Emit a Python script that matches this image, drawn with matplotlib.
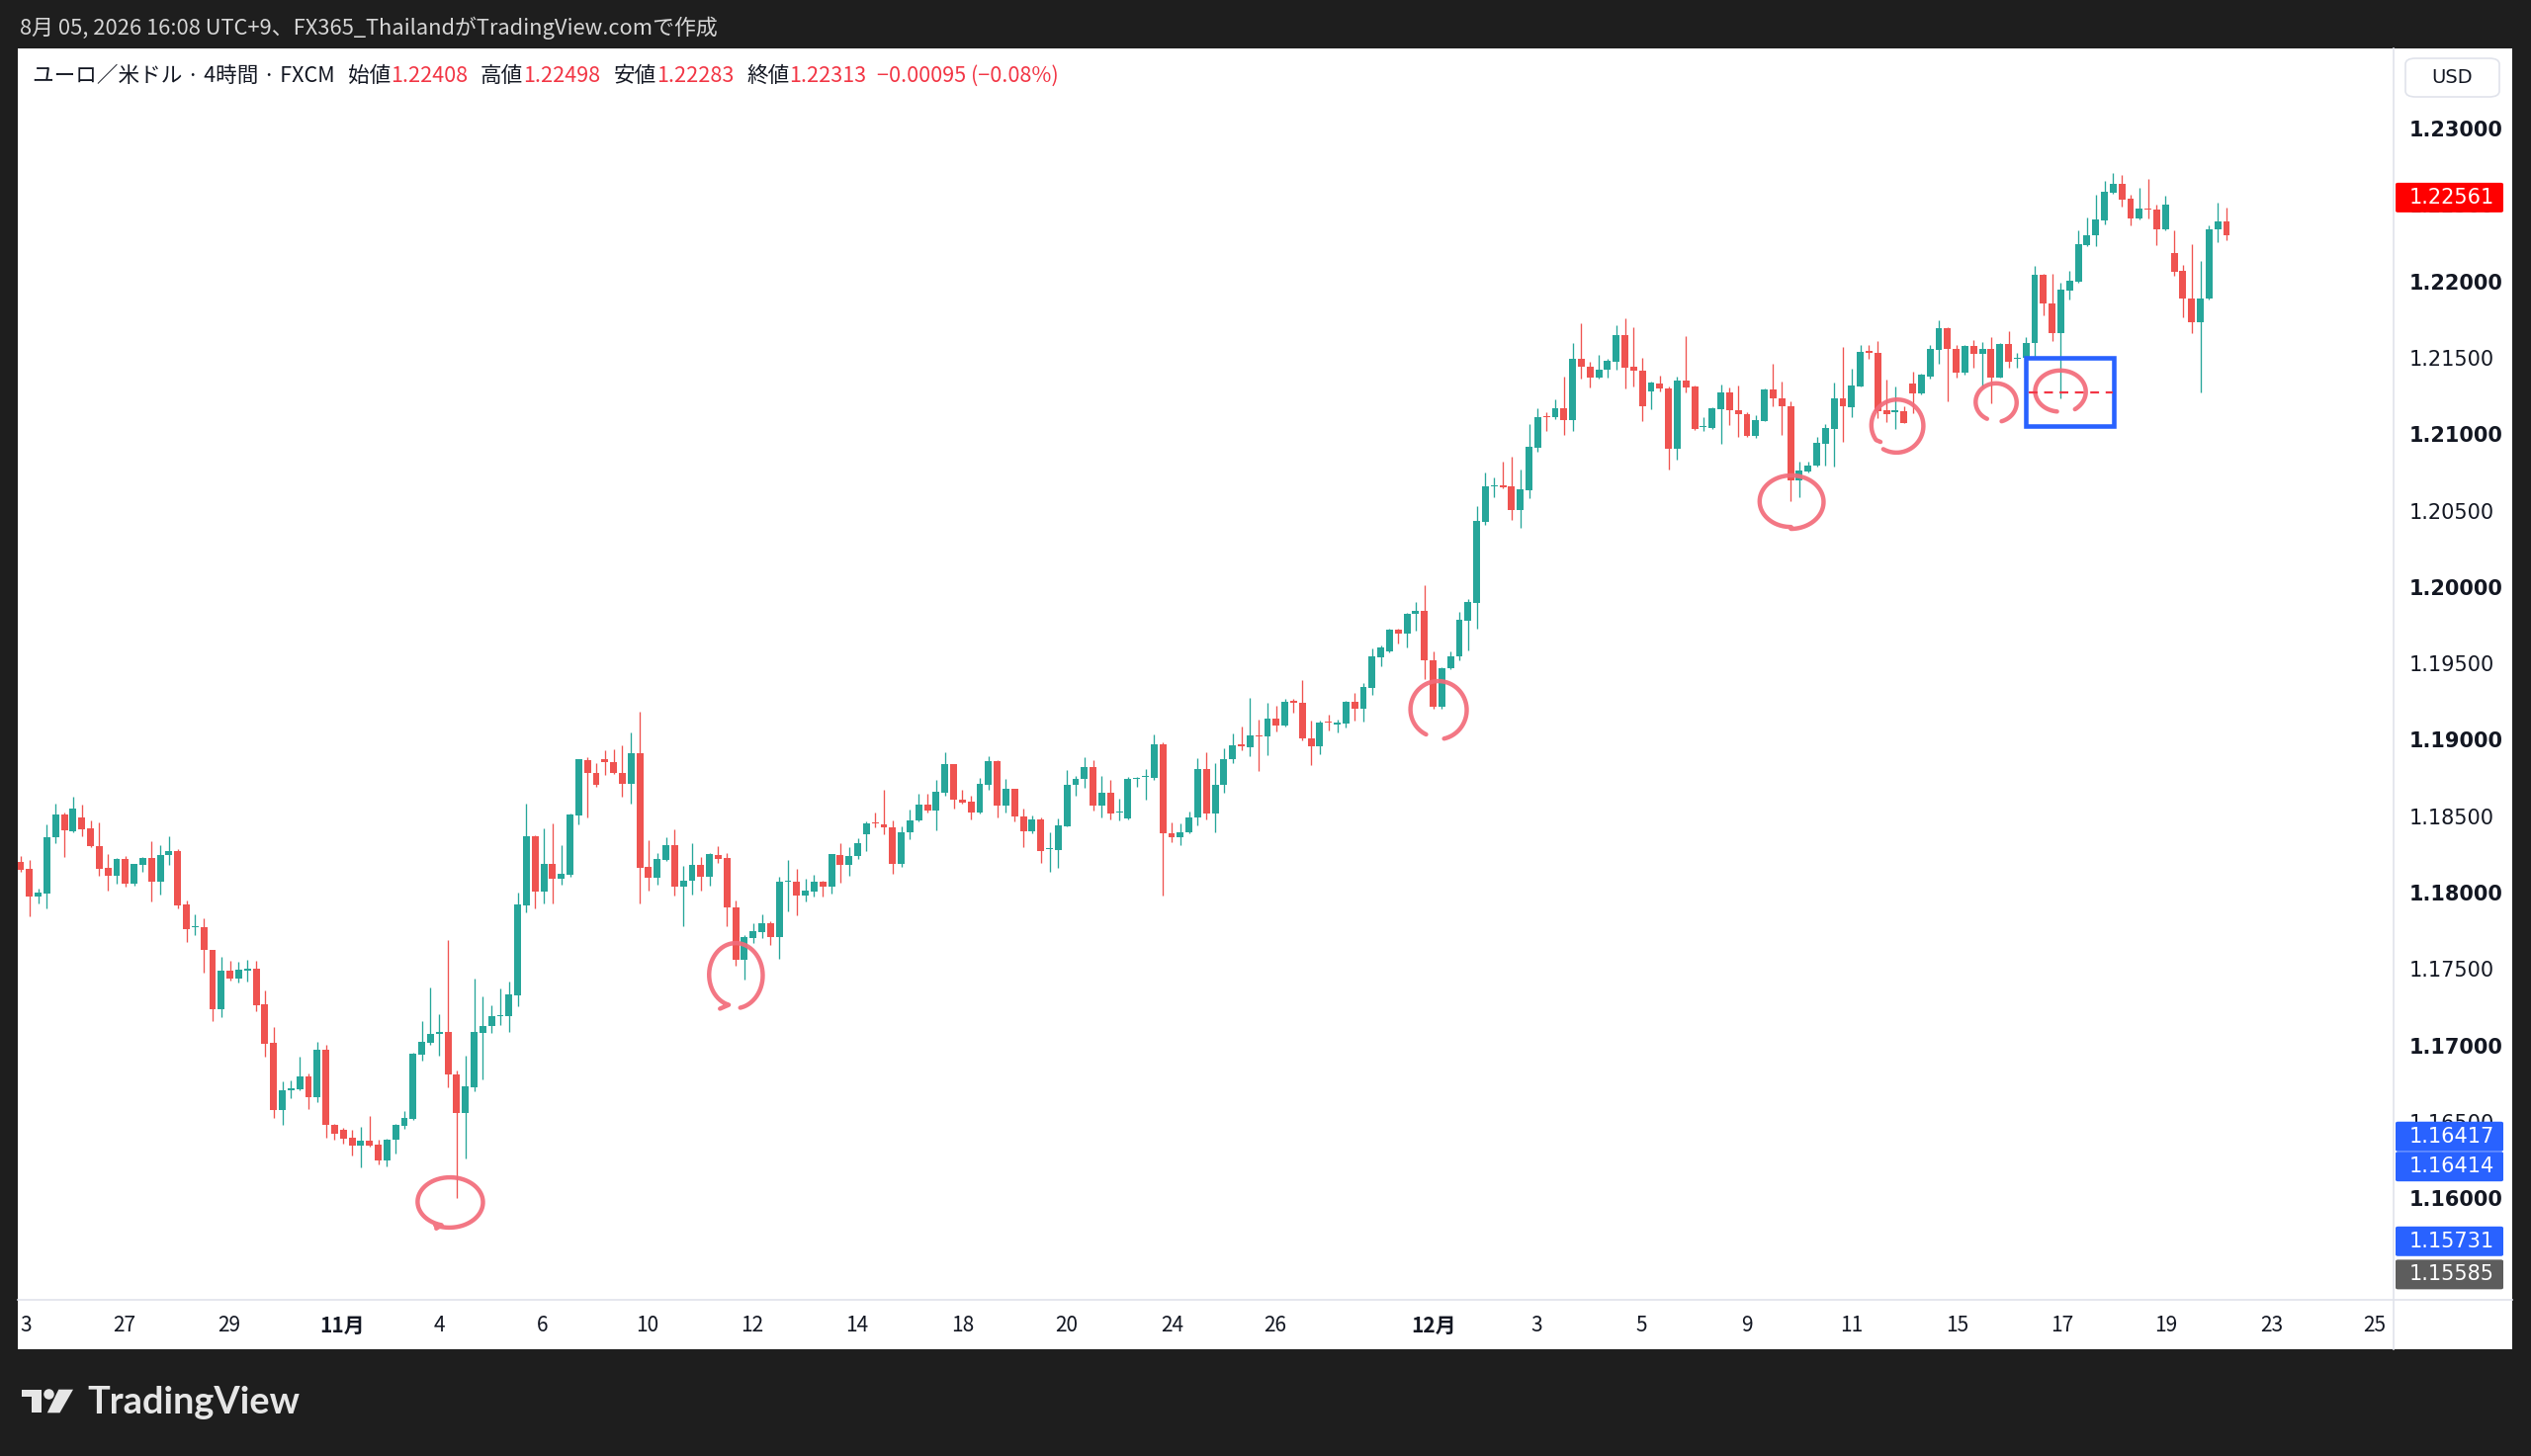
import matplotlib
matplotlib.use("Agg")
import matplotlib.pyplot as plt
import numpy as np
from matplotlib.patches import Rectangle, FancyBboxPatch, Polygon, Ellipse
from matplotlib.lines import Line2D

plt.rcParams['font.family'] = ['Noto Sans CJK JP', 'DejaVu Sans']

# ---------------- data (EUR/USD 4h candles) ----------------
opens = [1.18216,1.18168,1.17985,1.18007,1.18373,1.18524,1.18416,1.18505,1.18436,1.18319,
 1.18175,1.18123,1.18233,1.18069,1.18192,1.18237,1.18082,1.18257,1.18287,1.17936,
 1.17785,1.17785,1.17640,1.17252,1.17500,1.17448,1.17502,1.17517,1.17280,1.17030,
 1.16592,1.16717,1.16728,1.16810,1.16674,1.16985,1.16495,1.16459,1.16409,1.16359,
 1.16390,1.16364,1.16260,1.16394,1.16487,1.16532,1.16954,1.17030,1.17088,1.17099,
 1.16825,1.16573,1.16741,1.17095,1.17140,1.17202,1.17202,1.17343,1.17931,1.18382,
 1.18019,1.18203,1.18106,1.18127,1.18518,1.18880,1.18798,1.18886,1.18869,1.18798,
 1.18727,1.18923,1.18179,1.18112,1.18226,1.18326,1.18054,1.18091,1.18192,1.18117,
 1.18259,1.18237,1.17918,1.17573,1.17718,1.17756,1.17813,1.17724,1.18082,1.18086,
 1.17991,1.18020,1.18082,1.18054,1.18259,1.18194,1.18252,1.18397,1.18474,1.18461,
 1.18440,1.18198,1.18408,1.18485,1.18589,1.18548,1.18668,1.18852,1.18619,1.18608,
 1.18535,1.18720,1.18875,1.18582,1.18690,1.18513,1.18414,1.18492,1.18295,1.18291,
 1.18449,1.18718,1.18757,1.18834,1.18582,1.18666,1.18537,1.18496,1.18759,1.18770,
 1.18766,1.18985,1.18403,1.18377,1.18405,1.18507,1.18824,1.18528,1.18716,1.18884,
 1.18981,1.18964,1.19042,1.19033,1.19149,1.19104,1.19268,1.19253,1.19024,1.18970,
 1.19132,1.19111,1.19119,1.19261,1.19214,1.19354,1.19555,1.19591,1.19731,1.19710,
 1.19839,1.19854,1.19535,1.19226,1.19481,1.19557,1.19794,1.19908,1.20436,1.20671,
 1.20678,1.20671,1.20518,1.20648,1.20924,1.21133,1.21122,1.21185,1.21105,1.21504,
 1.21456,1.21383,1.21433,1.21489,1.21661,1.21452,1.21428,1.21292,1.21344,1.21312,
 1.20919,1.21364,1.21325,1.21062,1.21055,1.21176,1.21284,1.21172,1.21144,1.20999,
 1.21098,1.21308,1.21249,1.21198,1.20712,1.20771,1.20807,1.20950,1.21047,1.21249,
 1.21191,1.21327,1.21555,1.21545,1.21167,1.21159,1.21163,1.21342,1.21277,1.21392,
 1.21564,1.21709,1.21568,1.21413,1.21590,1.21536,1.21568,1.21385,1.21601,1.21506,
 1.21510,1.21612,1.22058,1.21866,1.21676,1.21952,1.22010,1.22248,1.22312,1.22414,
 1.22593,1.22653,1.22554,1.22424,1.22491,1.22480,1.22351,1.22198,1.22079,1.21903,
 1.21745,1.21898,1.22355,1.22408]
highs = [1.18252,1.18227,1.18041,1.18459,1.18593,1.18539,1.18641,1.18587,1.18485,1.18470,
 1.18265,1.18237,1.18255,1.18201,1.18244,1.18347,1.18324,1.18382,1.18296,1.17964,
 1.17871,1.17843,1.17641,1.17593,1.17569,1.17560,1.17575,1.17565,1.17373,1.17136,
 1.16778,1.16782,1.16937,1.16832,1.17036,1.17019,1.16502,1.16474,1.16459,1.16480,
 1.16549,1.16394,1.16405,1.16502,1.16584,1.16965,1.17170,1.17390,1.17217,1.17703,
 1.16851,1.16944,1.17450,1.17332,1.17274,1.17386,1.17429,1.18015,1.18593,1.18388,
 1.18433,1.18464,1.18323,1.18533,1.18888,1.18899,1.18858,1.18944,1.18951,1.18975,
 1.19061,1.19197,1.18354,1.18270,1.18377,1.18425,1.18190,1.18336,1.18248,1.18270,
 1.18319,1.18270,1.17963,1.17735,1.17813,1.17871,1.17823,1.18114,1.18226,1.18168,
 1.18101,1.18127,1.18091,1.18267,1.18334,1.18308,1.18367,1.18481,1.18539,1.18684,
 1.18485,1.18444,1.18556,1.18660,1.18660,1.18748,1.18929,1.18855,1.18684,1.18647,
 1.18765,1.18903,1.18878,1.18759,1.18694,1.18561,1.18515,1.18507,1.18405,1.18498,
 1.18817,1.18774,1.18897,1.18882,1.18776,1.18748,1.18625,1.18770,1.18772,1.18819,
 1.19050,1.18996,1.18470,1.18464,1.18546,1.18895,1.18934,1.18858,1.18960,1.19057,
 1.19098,1.19287,1.19143,1.19255,1.19236,1.19279,1.19279,1.19404,1.19139,1.19139,
 1.19177,1.19143,1.19270,1.19322,1.19384,1.19613,1.19630,1.19740,1.19740,1.19844,
 1.19915,1.20023,1.19589,1.19487,1.19589,1.19850,1.19934,1.20542,1.20762,1.20732,
 1.20831,1.20866,1.20781,1.21077,1.21180,1.21154,1.21243,1.21389,1.21607,1.21737,
 1.21486,1.21532,1.21504,1.21726,1.21771,1.21713,1.21510,1.21355,1.21396,1.21327,
 1.21392,1.21655,1.21328,1.21126,1.21191,1.21336,1.21318,1.21331,1.21159,1.21137,
 1.21310,1.21471,1.21359,1.21230,1.20831,1.20835,1.20997,1.21079,1.21348,1.21586,
 1.21443,1.21594,1.21594,1.21622,1.21370,1.21327,1.21195,1.21422,1.21411,1.21594,
 1.21758,1.21712,1.21594,1.21594,1.21627,1.21616,1.21650,1.21608,1.21685,1.21543,
 1.21648,1.22112,1.22060,1.22060,1.22004,1.22079,1.22345,1.22431,1.22582,1.22668,
 1.22722,1.22711,1.22582,1.22625,1.22683,1.22517,1.22575,1.22346,1.22123,1.22258,
 1.22144,1.22381,1.22528,1.22498]
lows = [1.18151,1.17860,1.17942,1.17908,1.18339,1.18244,1.18410,1.18384,1.18313,1.18123,
 1.18024,1.18071,1.18054,1.18058,1.18146,1.17953,1.18000,1.18192,1.17912,1.17688,
 1.17735,1.17491,1.17170,1.17198,1.17435,1.17425,1.17431,1.17235,1.16942,1.16538,
 1.16491,1.16670,1.16717,1.16597,1.16640,1.16411,1.16394,1.16368,1.16290,1.16215,
 1.16351,1.16232,1.16221,1.16303,1.16465,1.16528,1.16911,1.17015,1.16944,1.16739,
 1.16017,1.16271,1.16713,1.16793,1.17095,1.17144,1.17101,1.17271,1.17886,1.17907,
 1.17942,1.17942,1.18065,1.18119,1.18459,1.18507,1.18705,1.18781,1.18787,1.18640,
 1.18593,1.17944,1.18024,1.18065,1.18222,1.17996,1.17793,1.18002,1.18026,1.18058,
 1.18205,1.17793,1.17532,1.17446,1.17683,1.17713,1.17670,1.17580,1.17890,1.17862,
 1.17955,1.17989,1.17989,1.18004,1.18076,1.18125,1.18233,1.18287,1.18442,1.18395,
 1.18134,1.18183,1.18362,1.18481,1.18535,1.18418,1.18645,1.18563,1.18597,1.18494,
 1.18528,1.18684,1.18505,1.18535,1.18481,1.18313,1.18399,1.18209,1.18151,1.18175,
 1.18446,1.18645,1.18696,1.18552,1.18505,1.18494,1.18487,1.18492,1.18707,1.18621,
 1.18748,1.17994,1.18341,1.18324,1.18400,1.18453,1.18492,1.18405,1.18669,1.18863,
 1.18944,1.18904,1.18811,1.18912,1.19067,1.19100,1.19192,1.19011,1.18847,1.18921,
 1.19074,1.19063,1.19091,1.19136,1.19132,1.19305,1.19492,1.19587,1.19645,1.19615,
 1.19725,1.19412,1.19218,1.19218,1.19477,1.19535,1.19596,1.19742,1.20421,1.20603,
 1.20661,1.20449,1.20398,1.20596,1.20898,1.21036,1.21111,1.21008,1.21036,1.21374,
 1.21320,1.21374,1.21385,1.21433,1.21310,1.21325,1.21098,1.21174,1.21292,1.20781,
 1.20846,1.21288,1.21043,1.21036,1.21044,1.20947,1.21073,1.20997,1.20995,1.20991,
 1.21096,1.21193,1.21008,1.20577,1.20598,1.20760,1.20803,1.20809,1.20803,1.20965,
 1.21126,1.21322,1.21504,1.21116,1.21094,1.21047,1.21085,1.21152,1.21271,1.21379,
 1.21471,1.21228,1.21385,1.21400,1.21450,1.21321,1.21213,1.21381,1.21450,1.21450,
 1.21504,1.21515,1.21788,1.21622,1.21245,1.21896,1.22004,1.22241,1.22241,1.22383,
 1.22588,1.22502,1.22381,1.22420,1.22427,1.22248,1.22346,1.22047,1.21780,1.21676,
 1.21288,1.21896,1.22269,1.22283]
closes = [1.18162,1.17985,1.18011,1.18378,1.18524,1.18421,1.18563,1.18429,1.18315,1.18168,
 1.18123,1.18233,1.18069,1.18199,1.18240,1.18082,1.18261,1.18285,1.17929,1.17774,
 1.17793,1.17636,1.17252,1.17502,1.17448,1.17507,1.17517,1.17276,1.17026,1.16592,
 1.16717,1.16735,1.16810,1.16674,1.16985,1.16493,1.16437,1.16405,1.16359,1.16390,
 1.16359,1.16260,1.16398,1.16491,1.16538,1.16959,1.17034,1.17088,1.17099,1.16825,
 1.16573,1.16745,1.17099,1.17140,1.17202,1.17211,1.17349,1.17935,1.18382,1.18019,
 1.18203,1.18106,1.18134,1.18524,1.18884,1.18798,1.18718,1.18867,1.18796,1.18727,
 1.18923,1.18177,1.18112,1.18231,1.18326,1.18054,1.18091,1.18192,1.18117,1.18263,
 1.18233,1.17914,1.17573,1.17722,1.17761,1.17813,1.17724,1.18086,1.18091,1.17991,
 1.18024,1.18082,1.18054,1.18263,1.18194,1.18254,1.18334,1.18468,1.18466,1.18438,
 1.18198,1.18410,1.18485,1.18589,1.18548,1.18673,1.18852,1.18619,1.18604,1.18535,
 1.18724,1.18875,1.18582,1.18690,1.18513,1.18414,1.18492,1.18287,1.18302,1.18451,
 1.18718,1.18757,1.18834,1.18582,1.18666,1.18530,1.18543,1.18759,1.18766,1.18776,
 1.18985,1.18403,1.18377,1.18410,1.18507,1.18824,1.18528,1.18718,1.18888,1.18975,
 1.18970,1.19039,1.19035,1.19149,1.19104,1.19259,1.19257,1.19020,1.18970,1.19128,
 1.19123,1.19123,1.19261,1.19214,1.19358,1.19559,1.19619,1.19736,1.19710,1.19839,
 1.19854,1.19533,1.19226,1.19484,1.19559,1.19796,1.19913,1.20443,1.20669,1.20678,
 1.20667,1.20518,1.20652,1.20928,1.21124,1.21124,1.21185,1.21105,1.21504,1.21456,
 1.21385,1.21433,1.21493,1.21661,1.21450,1.21428,1.21198,1.21348,1.21310,1.20919,
 1.21364,1.21320,1.21047,1.21068,1.21180,1.21284,1.21172,1.21142,1.20999,1.21105,
 1.21308,1.21249,1.21195,1.20712,1.20775,1.20807,1.20954,1.21051,1.21249,1.21195,
 1.21331,1.21551,1.21547,1.21163,1.21146,1.21167,1.21088,1.21277,1.21400,1.21568,
 1.21709,1.21568,1.21418,1.21590,1.21536,1.21568,1.21385,1.21605,1.21489,1.21512,
 1.21612,1.22054,1.21866,1.21676,1.21957,1.22015,1.22254,1.22317,1.22416,1.22597,
 1.22653,1.22549,1.22424,1.22489,1.22485,1.22355,1.22517,1.22075,1.21903,1.21745,
 1.21903,1.22355,1.22405,1.22313]

price_tick_values = [1.230, 1.225, 1.220, 1.215, 1.210, 1.205, 1.200, 1.195,
                     1.190, 1.185, 1.180, 1.175, 1.170, 1.165, 1.160]
price_tick_labels = ["1.23000", "1.22500", "1.22000", "1.21500", "1.21000", "1.20500",
                     "1.20000", "1.19500", "1.19000", "1.18500", "1.18000", "1.17500",
                     "1.17000", "1.16500", "1.16000"]

x_tick_pos = [0.6, 11.9, 23.9, 36.9, 48.0, 59.8, 71.9, 83.9, 95.9, 108.0, 120.0, 132.1,
              143.9, 162.1, 173.9, 185.9, 198.0, 210.0, 222.1, 234.1, 246.1, 258.2, 270.0]
x_tick_labels = ["3", "27", "29", "11月", "4", "6", "10", "12", "14", "18", "20", "24",
                 "26", "12月", "3", "5", "9", "11", "15", "17", "19", "23", "25"]

price_label_values = [1.22561, 1.16417, 1.16414, 1.15731, 1.15585]
price_label_texts = ["1.22561", "1.16417", "1.16414", "1.15731", "1.15585"]
price_label_colors = ["#ff0000", "#2962ff", "#2962ff", "#2962ff", "#5d5d5d"]

header_text = "8月 05, 2026 16:08 UTC+9、FX365_ThailandがTradingView.comで作成"
legend_title = "ユーロ／米ドル · 4時間 · FXCM"
legend_keys = ["始値", "高値", "安値", "終値"]
legend_vals = ["1.22408", "1.22498", "1.22283", "1.22313"]
legend_change = "−0.00095 (−0.08%)"

# hand drawn marks: centre bar, centre price, radius bars, radius price, start deg, sweep deg
circle_cx = [49.2, 81.97, 162.56, 203.05, 215.19, 226.53, 233.9]
circle_cy = [1.15988, 1.17473, 1.19210, 1.20571, 1.21069, 1.21221, 1.21292]
circle_rx = [3.9, 3.19, 3.35, 3.8, 3.12, 2.44, 3.0]
circle_ry = [0.00168, 0.00217, 0.00194, 0.00178, 0.00178, 0.00129, 0.00142]
circle_a0 = [245, 280, 282, 270, 240, 286, 305]
circle_sw = [370, 335, 322, 360, 335, 318, 318]
circle_tail_dx = [-0.6, -1.0, 0.0, 0.0, 0.5, 0.0, 0.0]
circle_tail_dy = [-0.00022, -0.00025, 0.0, 0.0, -0.00012, 0.0, 0.0]
box_x = [229.98, 240.08]
box_y = [1.21066, 1.21512]
dash_x = [230.3, 240.0]
dash_y = 1.21288

# ---------------- figure ----------------
W, H = 2560, 1473
fig = plt.figure(figsize=(W / 100, H / 100), dpi=100, facecolor="#1e1e1e")
renderer = fig.canvas.get_renderer()


def fx(x):
    return x / W


def fy(y):
    return 1 - y / H


fig.add_artist(Rectangle((fx(18), fy(1365)), (2541 - 18) / W, (1365 - 49) / H,
                         transform=fig.transFigure, facecolor="white",
                         edgecolor="none", zorder=-10))

ax = fig.add_axes([fx(18), fy(1315), (2420 - 18) / W, (1315 - 49) / H])
ax.set_xlim(-0.34, 272.05)
ax.set_ylim(1.15348, 1.235369)
ax.axis("off")

o = np.array(opens); h = np.array(highs); l = np.array(lows); c = np.array(closes)
x = np.arange(len(o))
up = c >= o
cols = np.where(up, "#26a69a", "#ef5350")
ax.vlines(x, l, h, colors=cols, linewidth=0.95, zorder=2)
minh = 0.00008
bh = np.abs(c - o)
blo = np.minimum(o, c)
small = bh < minh
blo = np.where(small, (o + c) / 2 - minh / 2, blo)
bh = np.maximum(bh, minh)
ax.bar(x, bh, bottom=blo, width=0.78, color=cols, linewidth=0, zorder=3)

# hand drawn circles
ring_col = "#f26b7a"
for cx, cy, rx, ry, a0, sw, tdx, tdy in zip(circle_cx, circle_cy, circle_rx, circle_ry,
                                            circle_a0, circle_sw, circle_tail_dx,
                                            circle_tail_dy):
    t = np.radians(np.linspace(a0, a0 + sw, 240))
    rf = np.linspace(1.0, 0.93, 240)
    xs = list(cx + rx * rf * np.cos(t))
    ys = list(cy + ry * rf * np.sin(t))
    if tdx != 0 or tdy != 0:
        xs.append(xs[-1] + tdx)
        ys.append(ys[-1] + tdy)
    ax.plot(xs, ys, color=ring_col, lw=3.2, alpha=0.92, solid_capstyle="round",
            solid_joinstyle="round", zorder=5)

ax.add_patch(Rectangle((box_x[0], box_y[0]), box_x[1] - box_x[0], box_y[1] - box_y[0],
                       fill=False, edgecolor="#2962ff", lw=3.3, zorder=6))
ax.plot(dash_x, [dash_y, dash_y], color="#f23645", lw=1.6, dashes=(4, 3), zorder=6)

# separators
fig.add_artist(Line2D([fx(2421), fx(2421)], [fy(49), fy(1365)], color="#e0e3eb",
                      lw=1.2, transform=fig.transFigure))
fig.add_artist(Line2D([fx(18), fx(2541)], [fy(1315), fy(1315)], color="#e0e3eb",
                      lw=1.2, transform=fig.transFigure))

# price axis
for v, s in zip(price_tick_values, price_tick_labels):
    yd = ax.transData.transform((0, v))[1]
    bold = abs(round(v * 100) - v * 100) < 1e-6
    fig.text(fx(2437), yd / H, s, fontsize=15, family="DejaVu Sans",
             fontweight="bold" if bold else "normal", color="#131722",
             va="center", ha="left", zorder=2)

shift_px = [0, 0, 30, 0, 11]
for v, s, col, sh in zip(price_label_values, price_label_texts, price_label_colors, shift_px):
    yd = ax.transData.transform((0, v))[1] - sh
    fig.add_artist(FancyBboxPatch((fx(2423), (yd - 15) / H), 109 / W, 30 / H,
                                  boxstyle="round,pad=0,rounding_size=0.001",
                                  transform=fig.transFigure, facecolor=col,
                                  edgecolor="none", zorder=3))
    fig.text(fx(2437), yd / H, s, fontsize=15, family="DejaVu Sans", color="white",
             va="center", ha="left", zorder=4)

# USD box
fig.add_artist(FancyBboxPatch((fx(2433), fy(98)), 95 / W, 39 / H,
                              boxstyle="round,pad=0,rounding_size=0.004",
                              transform=fig.transFigure, facecolor="white",
                              edgecolor="#e0e3eb", lw=1.2, zorder=3))
fig.text(fx(2480), fy(78), "USD", fontsize=14, family="DejaVu Sans", color="#131722",
         ha="center", va="center", zorder=4)

# time axis
for p, s in zip(x_tick_pos, x_tick_labels):
    xd = ax.transData.transform((p, 0))[0]
    fig.text(xd / W, fy(1341), s, fontsize=15, color="#131722", ha="center",
             va="center", fontweight="bold" if "月" in s else "normal")


def fit_width(t, target):
    bb = t.get_window_extent(renderer)
    t.set_fontsize(t.get_fontsize() * target / bb.width)


# header line on dark bar
ht = fig.text(fx(20), fy(28), header_text, fontsize=15, color="#d6d6d6",
              ha="left", va="center")
fit_width(ht, 707)

# legend line


def layout_legend(fs):
    items = []
    xpos = 33.0
    red = "#f23645"
    dark = "#131722"
    pieces = [(legend_title, dark, 0)]
    for k, v in zip(legend_keys, legend_vals):
        pieces.append((k, dark, 13))
        pieces.append((v, red, 0))
    pieces.append((legend_change, red, 11))
    for txt, col, gap in pieces:
        xpos += gap
        t = fig.text(fx(xpos), fy(77), txt, fontsize=fs, color=col, ha="left",
                     va="center")
        bb = t.get_window_extent(renderer)
        xpos += bb.width
        items.append(t)
    return items, xpos


items, xend = layout_legend(15)
if abs(xend - 1068) > 4:
    fs = 15 * (1068 - 33 - 70) / (xend - 33 - 70)
    for t in items:
        t.remove()
    items, xend = layout_legend(fs)

# TradingView logo
logo_col = "#e6e6e6"
fig.add_artist(Polygon([(fx(21.7), fy(1405.7)), (fx(41.7), fy(1405.7)), (fx(41.7), fy(1429.3)),
                        (fx(31.7), fy(1429.3)), (fx(31.7), fy(1413.2)), (fx(21.7), fy(1413.2))],
                       closed=True, transform=fig.transFigure, facecolor=logo_col,
                       edgecolor="none"))
fig.add_artist(Ellipse((fx(49.5), fy(1410.5)), 10.5 / W, 10.5 / H, transform=fig.transFigure,
                       facecolor=logo_col, edgecolor="none"))
fig.add_artist(Polygon([(fx(59.3), fy(1405.7)), (fx(74.0), fy(1405.7)), (fx(60.5), fy(1429.3)),
                        (fx(47.8), fy(1429.3))], closed=True, transform=fig.transFigure,
                       facecolor=logo_col, edgecolor="none"))
lt = fig.text(fx(88), fy(1430), "TradingView", fontsize=25, family=["Lato", "DejaVu Sans"],
              fontweight="bold", color=logo_col, ha="left", va="baseline")
fit_width(lt, 215)

fig.savefig("out.png", dpi=100, facecolor=fig.get_facecolor())
